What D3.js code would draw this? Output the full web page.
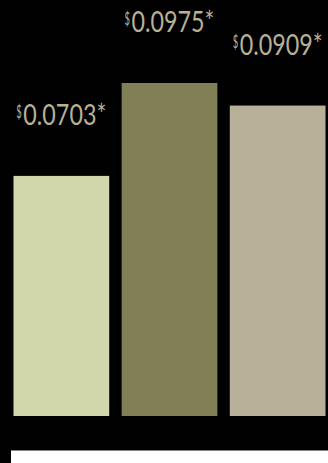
<!DOCTYPE html>
<html>
<head>
<meta charset="utf-8">
<script src="https://cdn.jsdelivr.net/npm/d3@7"></script>
<style>
  html, body { margin: 0; padding: 0; background: #000; }
  svg { display: block; }
</style>
</head>
<body>
<svg id="chart" width="328" height="463"></svg>
<script>
// Cost per unit for each option
const categories = ["A", "B", "C"];
const values = [0.0703, 0.0975, 0.0909];
const labels = ["0.0703*", "0.0975*", "0.0909*"];
const colors = ["#d1d6ab", "#817f55", "#b8b098"];

const width = 328, height = 463;
const svg = d3.select("#chart");

svg.append("rect").attr("width", width).attr("height", height).attr("fill", "#010101");

const x = d3.scaleBand().domain(categories).range([7, 332]).paddingInner(0.115).paddingOuter(0.06);
const y = d3.scaleLinear().domain([0, 0.0975]).range([416, 83]);

const g = svg.append("g");

g.selectAll("rect.bar")
  .data(values)
  .join("rect")
  .attr("class", "bar")
  .attr("x", (d, i) => x(categories[i]))
  .attr("width", x.bandwidth())
  .attr("y", d => y(d))
  .attr("height", d => y(0) - y(d))
  .attr("fill", (d, i) => colors[i]);

// Value labels: small raised "$" followed by the figure, centred over each bar.
// Glyphs are condensed horizontally to a fixed width.
const dollarW = 5.5, gap = 1.5, numW = 83;
const labelX = i => x(categories[i]) + x.bandwidth() / 2 - (dollarW + gap + numW) / 2;

values.forEach((v, i) => {
  const x0 = labelX(i);
  const base = y(v) - 51;

  const cur = g.append("text")
    .attr("fill", "#b7b296")
    .style("font-family", "Lato")
    .style("font-size", "18px")
    .text("$");
  const cw = cur.node().getComputedTextLength();
  cur.attr("transform", `translate(${x0},${base - 7}) scale(${dollarW / cw},1)`);

  const num = g.append("text")
    .attr("fill", "#b7b296")
    .style("font-family", "Lato")
    .style("font-size", "28px")
    .text(labels[i]);
  const nw = num.node().getComputedTextLength();
  num.attr("transform", `translate(${x0 + dollarW + gap},${base}) scale(${numW / nw},1)`);
});

// Footer strip
svg.append("rect").attr("x", 11).attr("y", 450).attr("width", width - 11).attr("height", height - 450).attr("fill", "#fff");
svg.append("line").attr("x1", 11).attr("x2", width).attr("y1", 450.5).attr("y2", 450.5).attr("stroke", "#858585").attr("stroke-width", 1);
</script>
</body>
</html>
